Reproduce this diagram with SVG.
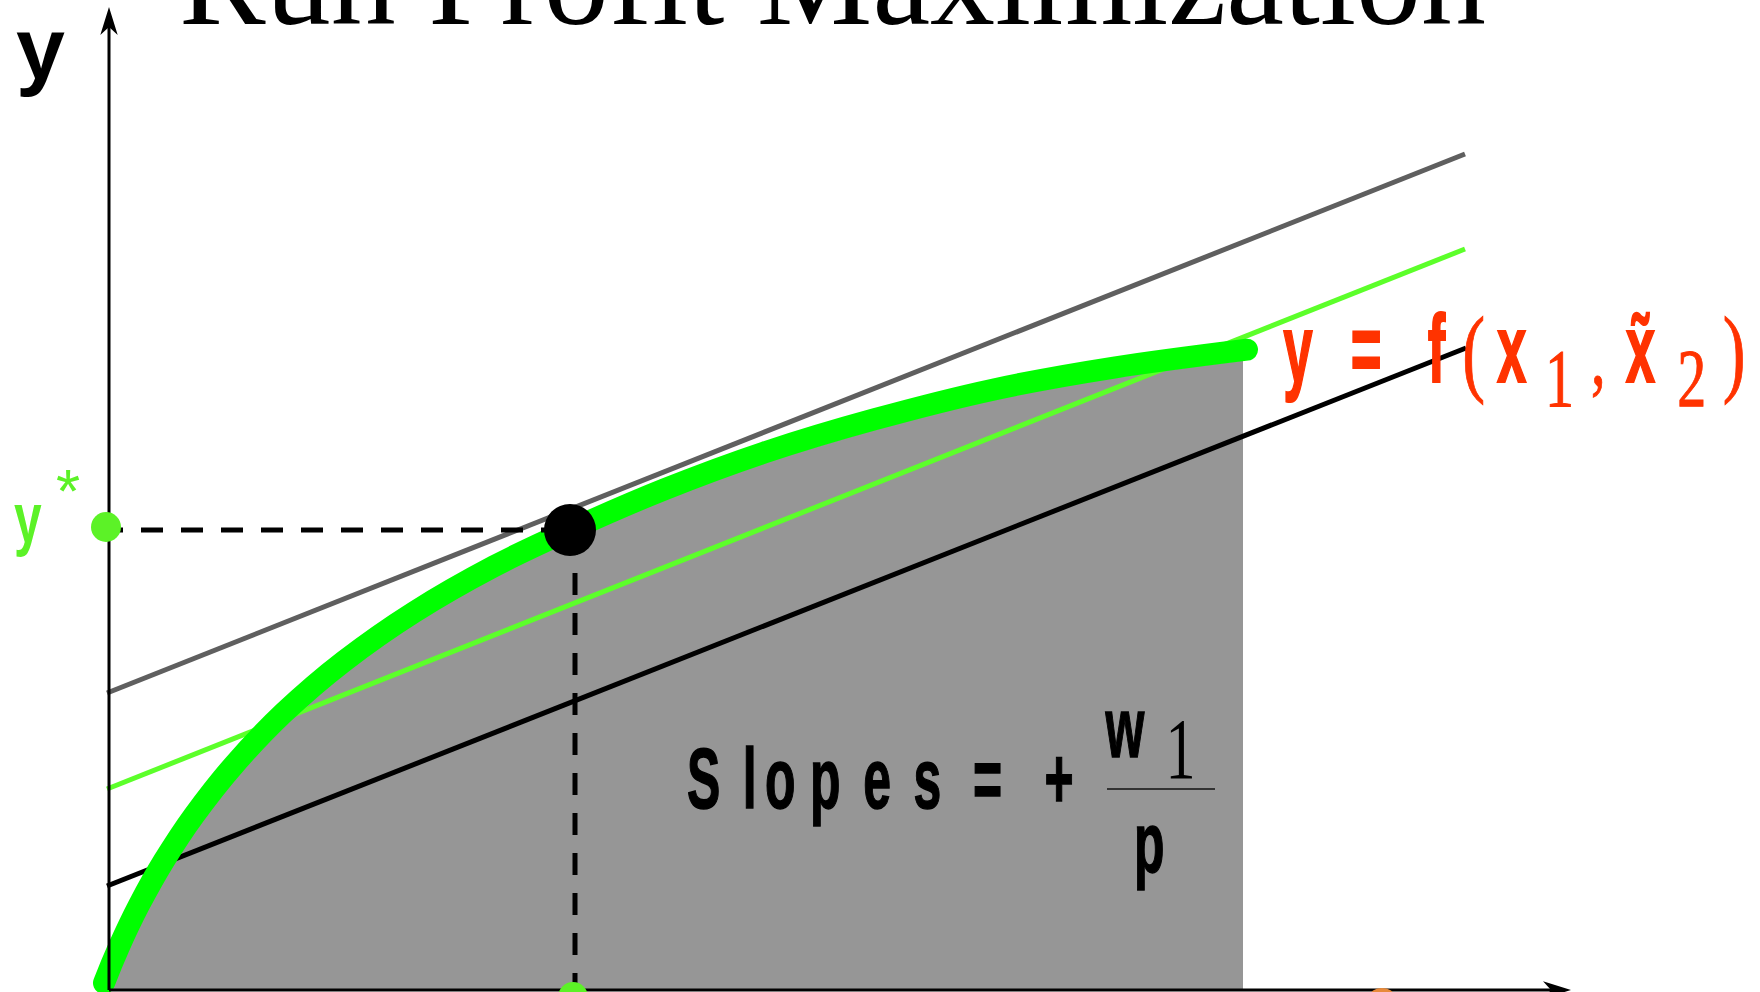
<svg xmlns="http://www.w3.org/2000/svg" width="1760" height="992" viewBox="0 0 1760 992">
<style>
.sans{font-family:"Liberation Sans",Arial,sans-serif;font-weight:bold}
.serif{font-family:"Liberation Serif","Times New Roman",serif}
.orange{fill:#ff3300;stroke:#ff3300}
.lime{fill:#5cf227}
.heavy{stroke-width:2}
.dash{fill:none;stroke:#000;stroke-width:5}
</style>
<defs>
<marker id="ah" markerUnits="userSpaceOnUse" markerWidth="32" markerHeight="20" viewBox="-22 -10 32 20" refX="0" refY="0" orient="auto">
<path d="M8,0 L-20,-8.7 L-12,0 L-20,8.7 Z" fill="#000"/>
</marker>
<clipPath id="grayclip"><rect x="109" y="0" width="1134" height="990"/></clipPath>
<path id="curve" d="M104,983 C109,970 113.2,959.7 119,946.7 C124.8,933.7 131.5,919.4 139,905 C146.5,890.7 154.8,875.5 164,860.6 C173.2,845.7 182.3,831.4 194,815.4 C205.7,799.5 219,782 234,764.9 C249,747.8 265.7,729.9 284,712.6 C302.3,695.3 322.3,677.9 344,661.2 C365.7,644.5 389,628 414,612.2 C439,596.4 468,580 494,566.3 C520,552.6 541.7,542.8 570,530 C598.3,517.2 631.7,502.4 664,489.5 C696.3,476.6 729,464.3 764,452.6 C799,440.9 835.7,429.9 874,419.4 C912.3,408.9 954,398 994,389.4 C1034,380.8 1071.8,374.2 1114,367.6 C1156.2,361 1202.7,355.2 1247,349.7"/>
</defs>
<rect width="1760" height="992" fill="#fff"/>

<g id="title"><text class="serif" x="179" y="24" font-size="130">Run Profit Maximization</text></g>

<g id="shaded-region" clip-path="url(#grayclip)">
<path transform="translate(2,10)" fill="#969696" d="M104,983 C109,970 113.2,959.7 119,946.7 C124.8,933.7 131.5,919.4 139,905 C146.5,890.7 154.8,875.5 164,860.6 C173.2,845.7 182.3,831.4 194,815.4 C205.7,799.5 219,782 234,764.9 C249,747.8 265.7,729.9 284,712.6 C302.3,695.3 322.3,677.9 344,661.2 C365.7,644.5 389,628 414,612.2 C439,596.4 468,580 494,566.3 C520,552.6 541.7,542.8 570,530 C598.3,517.2 631.7,502.4 664,489.5 C696.3,476.6 729,464.3 764,452.6 C799,440.9 835.7,429.9 874,419.4 C912.3,408.9 954,398 994,389.4 C1034,380.8 1071.8,374.2 1114,367.6 C1156.2,361 1202.7,355.2 1247,349.7 L1260,1000 L100,1000 Z"/>
</g>

<g id="connectors">
<line x1="107" y1="693" x2="1465" y2="154" stroke="#5f5f5f" stroke-width="5"/>
<line x1="107" y1="789" x2="1465" y2="249" stroke="#5cff2a" stroke-width="5"/>
<line x1="107" y1="886" x2="1466" y2="348" stroke="#000" stroke-width="5"/>
<use href="#curve" fill="none" stroke="#00ff00" stroke-width="22" stroke-linecap="round"/>
<line class="dash" x1="101" y1="530" x2="570" y2="530" stroke-dasharray="22 18"/>
<line class="dash" x1="575" y1="533" x2="575" y2="992" stroke-dasharray="22 18"/>
<line x1="109" y1="990" x2="109" y2="15" stroke="#000" stroke-width="3" marker-end="url(#ah)"/>
<line x1="109" y1="990" x2="1563" y2="990" stroke="#000" stroke-width="3" marker-end="url(#ah)"/>
</g>

<g id="optimum-point"><circle cx="570" cy="530" r="26" fill="#000"/></g>
<g id="ystar-dot"><circle cx="106" cy="527" r="15" fill="#5cf227"/></g>
<g id="xstar-dot"><circle cx="573" cy="997" r="15" fill="#5cf227"/></g>
<g id="orange-mark"><ellipse cx="1382" cy="996" rx="12" ry="8" fill="#e88a3a"/></g>

<g id="y-axis-label"><text class="sans" x="16" y="79" font-size="88">y</text></g>

<g id="ystar-label">
<text class="sans lime" transform="scale(0.7,1)" x="20" y="542" font-size="71">y</text>
<text class="lime" font-family="Liberation Sans, Arial, sans-serif" x="56" y="512" font-size="62">*</text>
</g>

<g id="function-label">
<g transform="scale(0.55,1)">
<text class="sans orange heavy" y="382" font-size="96"><tspan x="2333">y</tspan><tspan x="2456">=</tspan><tspan x="2596">f</tspan><tspan x="2722">x</tspan><tspan x="2956">x̃</tspan></text>
</g>
<g transform="scale(0.7,1)">
<text class="serif orange" stroke-width="1" y="384" font-size="98" x="2089">(</text>
<text class="serif orange" stroke-width="1" y="406" font-size="83" x="2207">1</text>
<text class="serif orange" stroke-width="1" y="385" font-size="83" x="2273">,</text>
<text class="serif orange" stroke-width="1" y="406" font-size="83" x="2396">2</text>
<text class="serif orange" stroke-width="1" y="384" font-size="98" x="2461">)</text>
</g>
</g>

<g id="slopes-label">
<g transform="scale(0.58,1)" stroke="#000" stroke-width="1.5">
<text class="sans" y="808" font-size="86" x="1184.5 1280.7 1319 1396.5 1488.4 1575 1620.7 1677.6 1758.6 1800.9">Slopes = +</text>
<text class="sans" y="757" font-size="86" x="1906">w</text>
<text class="sans" y="872" font-size="86" x="1955">p</text>
</g>
<g transform="scale(0.7,1)">
<text class="serif" y="778" font-size="86" x="1665">1</text>
</g>
<line x1="1107" y1="789" x2="1215" y2="789" stroke="#333" stroke-width="2"/>
</g>
</svg>
